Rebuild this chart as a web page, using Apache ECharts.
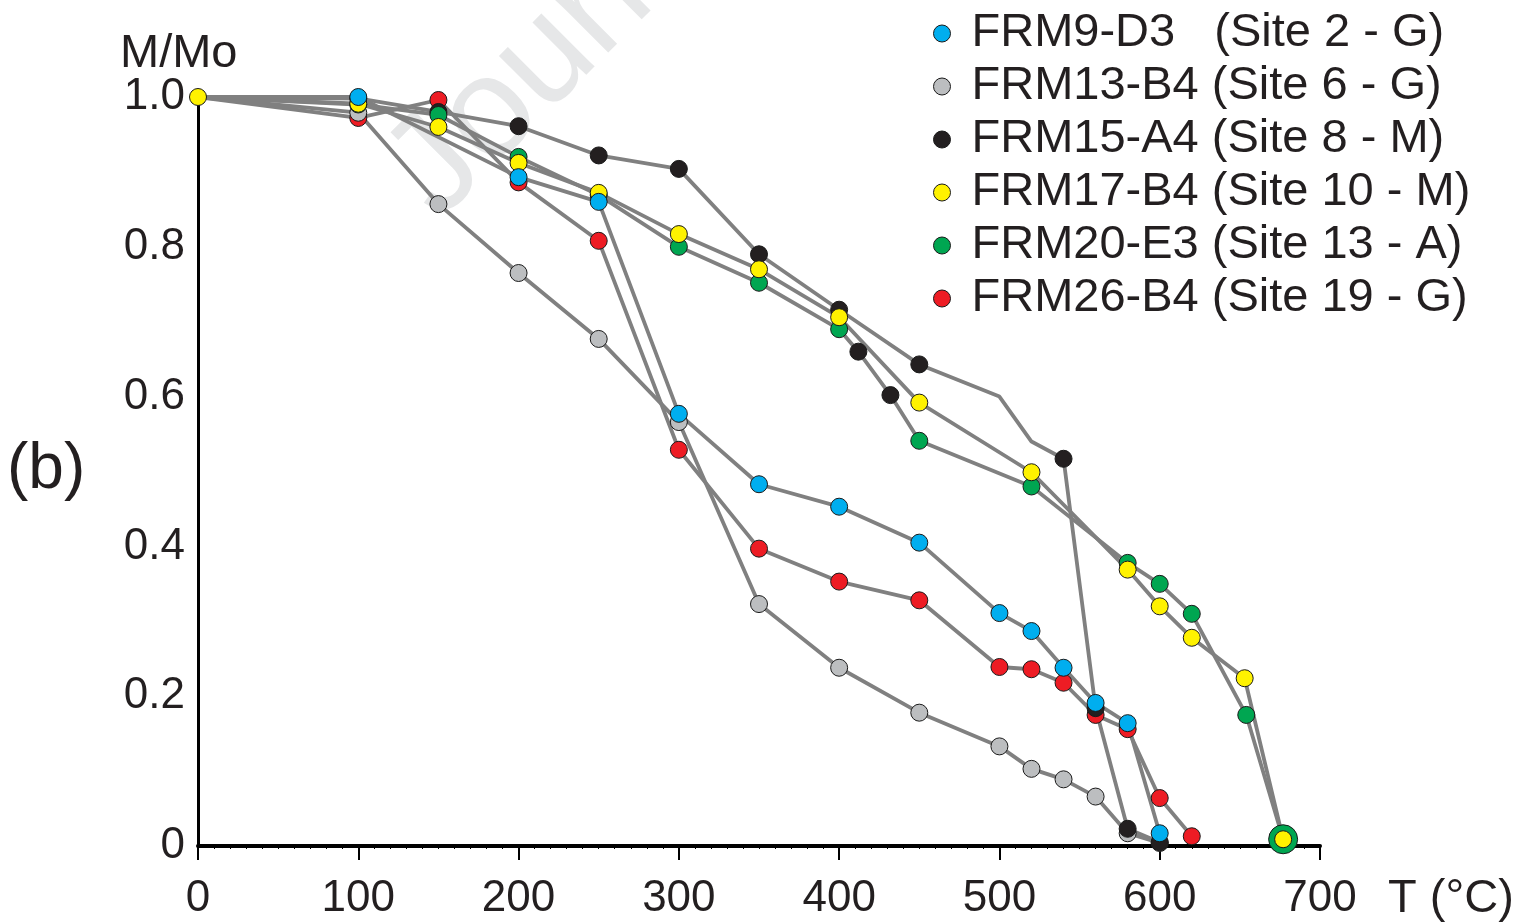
<!DOCTYPE html>
<html>
<head>
<meta charset="utf-8">
<script src="https://cdn.jsdelivr.net/npm/echarts@6/dist/echarts.min.js"></script>
<style>
  html, body { margin: 0; padding: 0; background: #fff; }
  #chart { width: 1520px; height: 923px; }
</style>
</head>
<body>
<div id="chart"></div>
<script>
// Thermal demagnetisation curves: normalised magnetisation M/Mo vs temperature
const xTicks = [0, 100, 200, 300, 400, 500, 600, 700];
const yTicks = [0, 0.2, 0.4, 0.6, 0.8, 1.0];

// FRM9-D3 (Site 2 - G)
const frm9T = [0, 100, 200, 250, 300, 350, 400, 450, 500, 520, 540, 560, 580, 600];
const frm9M = [1.0, 1.0, 0.893, 0.860, 0.577, 0.483, 0.453, 0.405, 0.311, 0.287, 0.238, 0.191, 0.164, 0.017];

// FRM13-B4 (Site 6 - G)
const frm13T = [0, 100, 150, 200, 250, 300, 350, 400, 450, 500, 520, 540, 560, 580, 600];
const frm13M = [1.0, 0.979, 0.857, 0.765, 0.677, 0.566, 0.323, 0.238, 0.178, 0.133, 0.103, 0.089, 0.066, 0.017, 0.004];

// FRM15-A4 (Site 8 - M); 500 and 520 are vertices without a marker
const frm15T = [0, 100, 150, 200, 250, 300, 350, 400, 450, 500, 520, 540, 560, 580, 600];
const frm15M = [1.0, 0.998, 0.980, 0.961, 0.922, 0.904, 0.790, 0.716, 0.643, 0.600, 0.540, 0.517, 0.184, 0.023, 0.005];
const frm15NoMarker = [500, 520];

// FRM17-B4 (Site 10 - M)
const frm17T = [0, 100, 150, 200, 250, 300, 350, 400, 450, 520, 580, 600, 620, 653, 677];
const frm17M = [1.0, 0.991, 0.960, 0.912, 0.872, 0.817, 0.770, 0.706, 0.592, 0.499, 0.369, 0.320, 0.278, 0.224, 0.009];

// FRM20-E3 (Site 13 - A); steps 412 and 432 carry dark markers, last step is enlarged
const frm20T = [0, 100, 150, 200, 250, 300, 350, 400, 412, 432, 450, 520, 580, 600, 620, 654, 677];
const frm20M = [1.0, 0.990, 0.976, 0.920, 0.869, 0.800, 0.752, 0.690, 0.660, 0.602, 0.541, 0.480, 0.378, 0.350, 0.310, 0.175, 0.009];
const frm20DarkSteps = [412, 432];

// FRM26-B4 (Site 19 - G)
const frm26T = [0, 100, 150, 200, 250, 300, 350, 400, 450, 500, 520, 540, 560, 580, 600, 620];
const frm26M = [1.0, 0.972, 0.996, 0.886, 0.808, 0.529, 0.397, 0.353, 0.328, 0.239, 0.236, 0.218, 0.175, 0.156, 0.064, 0.013];

const names = {
  frm9:  'FRM9-D3   (Site 2 - G)',
  frm13: 'FRM13-B4 (Site 6 - G)',
  frm15: 'FRM15-A4 (Site 8 - M)',
  frm17: 'FRM17-B4 (Site 10 - M)',
  frm20: 'FRM20-E3 (Site 13 - A)',
  frm26: 'FRM26-B4 (Site 19 - G)'
};
const colors = {
  frm9: '#00AEEF', frm13: '#BCBEC0', frm15: '#231F20',
  frm17: '#FFF200', frm20: '#00A651', frm26: '#ED1C24'
};

const FONT = '"Liberation Sans", Arial, Helvetica, sans-serif';
const MARK = 17;

// Build [T, M] items; the shared start point (0, 1.0) is marked only once
function build(T, M, opts) {
  opts = opts || {};
  return T.map((t, i) => {
    const item = { value: [t, M[i]] };
    if (i === 0 && !opts.showStart) item.symbol = 'none';
    if (opts.noMarker && opts.noMarker.includes(t)) item.symbol = 'none';
    if (opts.dark && opts.dark.includes(t)) item.itemStyle = { color: colors.frm15 };
    if (opts.bigLast && i === T.length - 1) item.symbolSize = 29;
    return item;
  });
}

function series(key, data) {
  return {
    name: names[key],
    type: 'line',
    data: data,
    symbol: 'circle',
    symbolSize: MARK,
    showAllSymbol: true,
    lineStyle: { color: '#808080', width: 3.8 },
    itemStyle: { color: colors[key], borderColor: '#1a1a1a', borderWidth: 1 },
    emphasis: { disabled: true },
    animation: false
  };
}

const chart = echarts.init(document.getElementById('chart'), null, { renderer: 'canvas' });

chart.setOption({
  backgroundColor: '#ffffff',
  animation: false,
  grid: { left: 198, right: 200, top: 97, bottom: 77, containLabel: false },
  legend: {
    data: [names.frm9, names.frm13, names.frm15, names.frm17, names.frm20, names.frm26],
    orient: 'vertical',
    left: 933,
    top: 10,
    padding: 0,
    itemGap: 6,
    itemWidth: 17,
    itemHeight: 17,
    icon: 'circle',
    selectedMode: false,
    itemStyle: { borderColor: '#1a1a1a', borderWidth: 1 },
    textStyle: {
      fontFamily: FONT, fontSize: 47, color: '#231F20',
      lineHeight: 47, padding: [0, 0, 0, 16]
    }
  },
  xAxis: {
    type: 'value',
    min: xTicks[0],
    max: xTicks[xTicks.length - 1],
    interval: 100,
    splitLine: { show: false },
    axisLine: { show: true, onZero: false, lineStyle: { color: '#000', width: 4 } },
    axisTick: { show: true, length: 14, lineStyle: { color: '#000', width: 2 } },
    minorTick: { show: true, splitNumber: 10, length: 3, lineStyle: { color: '#000', width: 1 } },
    axisLabel: {
      margin: 31, fontFamily: FONT, fontSize: 44, color: '#231F20',
      formatter: v => xTicks.includes(v) ? String(v) : ''
    }
  },
  yAxis: {
    type: 'value',
    min: yTicks[0],
    max: yTicks[yTicks.length - 1],
    interval: 0.2,
    splitLine: { show: false },
    axisLine: { show: true, onZero: false, lineStyle: { color: '#000', width: 3 } },
    axisTick: { show: false },
    axisLabel: {
      margin: 13, fontFamily: FONT, fontSize: 44, color: '#231F20',
      formatter: v => v === 0 ? '0' : v.toFixed(1)
    }
  },
  graphic: [
    {
      type: 'text', z: -10, silent: true,
      x: 462, y: 244, rotation: 45 * Math.PI / 180,
      style: { text: 'Journal Pre-proof', font: '142px ' + FONT, fill: '#e6e7e8', textAlign: 'left', textVerticalAlign: 'bottom' }
    },
    {
      type: 'text', left: 120, top: 31,
      style: { text: 'M/Mo', font: '47px ' + FONT, fill: '#231F20' }
    },
    {
      type: 'text', left: 1388, top: 876,
      style: { text: 'T (°C)', font: '47px ' + FONT, fill: '#231F20' }
    },
    {
      type: 'text', left: 7, top: 438,
      style: { text: '(b)', font: '64px ' + FONT, fill: '#231F20' }
    }
  ],
  // drawing order: later series sit on top of earlier ones
  series: [
    series('frm26', build(frm26T, frm26M)),
    series('frm13', build(frm13T, frm13M)),
    series('frm15', build(frm15T, frm15M, { noMarker: frm15NoMarker })),
    series('frm20', build(frm20T, frm20M, { dark: frm20DarkSteps, bigLast: true })),
    series('frm17', build(frm17T, frm17M, { showStart: true })),
    series('frm9',  build(frm9T, frm9M))
  ]
});
</script>
</body>
</html>
